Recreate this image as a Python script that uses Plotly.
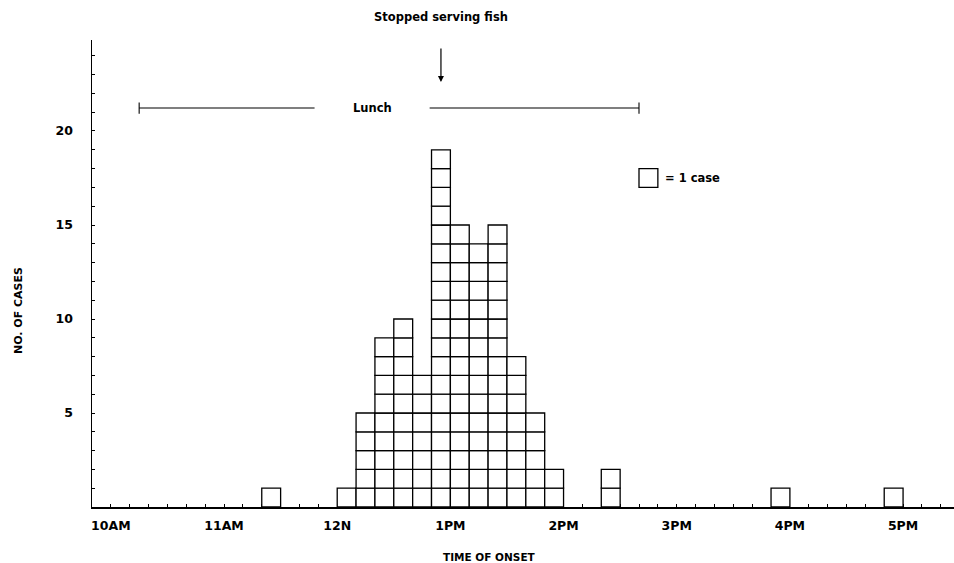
import plotly.graph_objects as go

# ---- data ----
bin_start = ["11:20", "12:00", "12:10", "12:20", "12:30", "12:40", "12:50",
             "13:00", "13:10", "13:20", "13:30", "13:40", "13:50", "14:20",
             "15:50", "16:50"]
cases = [1, 1, 5, 9, 10, 7, 19, 15, 14, 15, 8, 5, 2, 2, 1, 1]
bin_minutes = 10

hour_ticks = [10, 11, 12, 13, 14, 15, 16, 17]
hour_labels = ["10AM", "11AM", "12N", "1PM", "2PM", "3PM", "4PM", "5PM"]
y_label_vals = [5, 10, 15, 20]

lunch_start = "10:15"
lunch_end = "14:40"
fish_stop = "12:55"


def to_min(s):
    h, m = s.split(":")
    return int(h) * 60 + int(m)


FONT = "DejaVu Sans, Verdana, sans-serif"

xs, bases = [], []
for t, n in zip(bin_start, cases):
    for k in range(n):
        xs.append(to_min(t) + bin_minutes / 2)
        bases.append(k)

fig = go.Figure()
fig.add_trace(go.Bar(
    x=xs, y=[1] * len(xs), base=bases, width=bin_minutes,
    marker=dict(color="white", line=dict(color="black", width=1.3)),
    hoverinfo="skip", showlegend=False,
))

x_min, x_max = 590, 1047
y_max = 24.84

# x ticks every 10 minutes, labels at hours
xt_vals = list(range(600, 1041, bin_minutes))
hour_map = {h * 60: lab for h, lab in zip(hour_ticks, hour_labels)}
xt_text = [hour_map.get(v, "") for v in xt_vals]

yt_vals = list(range(1, 25))
yt_text = [str(v) if v in y_label_vals else "" for v in yt_vals]

fig.update_layout(
    width=954, height=563,
    margin=dict(l=92, r=0, t=40, b=56),
    paper_bgcolor="white", plot_bgcolor="white",
    barmode="overlay", bargap=0,
    font=dict(family=FONT, color="black", size=11),
    xaxis=dict(range=[x_min, x_max], showgrid=False, zeroline=False,
               showline=True, linecolor="black", linewidth=1.5,
               tickmode="array", tickvals=xt_vals, ticktext=xt_text,
               ticks="inside", ticklen=3, tickwidth=1, tickcolor="black",
               tickfont=dict(family=FONT, size=12.5, weight="bold"),
               ticklabelstandoff=6, layer="below traces", fixedrange=True),
    yaxis=dict(range=[0, y_max], showgrid=False, zeroline=False,
               showline=True, linecolor="black", linewidth=1.5,
               tickmode="array", tickvals=yt_vals, ticktext=yt_text,
               ticks="inside", ticklen=3, tickwidth=1, tickcolor="black",
               tickfont=dict(family=FONT, size=12.5, weight="bold"),
               ticklabelstandoff=15, layer="below traces", fixedrange=True),
)

# Lunch bar
lunch_y = 21.22
l0, l1 = to_min(lunch_start), to_min(lunch_end)
lunch_center = 738.5
gap = 30.5
line_style = dict(color="black", width=1.1)
fig.add_shape(type="line", x0=l0, x1=lunch_center - gap, y0=lunch_y, y1=lunch_y, line=line_style)
fig.add_shape(type="line", x0=lunch_center + gap, x1=l1, y0=lunch_y, y1=lunch_y, line=line_style)
for xv in (l0, l1):
    fig.add_shape(type="line", x0=xv, x1=xv, y0=lunch_y - 0.3, y1=lunch_y + 0.3, line=line_style)
fig.add_annotation(x=lunch_center, y=lunch_y, text="Lunch", showarrow=False,
                   font=dict(family=FONT, size=11.5, weight="bold"))

# Stopped serving fish (text above plot area, in paper coords)
fs = to_min(fish_stop)
fig.add_annotation(x=fs, yref="paper", y=1 + 23 / 467,
                   text="Stopped serving fish", showarrow=False, yanchor="middle",
                   font=dict(family=FONT, size=11.5, weight="bold"))
fig.add_annotation(x=fs, y=22.6, text="", showarrow=True, arrowhead=2,
                   arrowsize=1, arrowwidth=1.2, arrowcolor="black", ax=0, ay=-35)

# Legend square
fig.add_shape(type="rect", x0=880, x1=890, y0=17, y1=18,
              line=dict(color="black", width=1.3), fillcolor="white")
fig.add_annotation(x=892.5, y=17.5, text="= 1 case", showarrow=False, xanchor="left",
                   font=dict(family=FONT, size=11.5, weight="bold"))

# Axis titles
fig.add_annotation(xref="paper", yref="paper", x=-74 / 862, y=(507 - 311) / 467,
                   text="NO. OF CASES", textangle=-90, showarrow=False,
                   xanchor="center", yanchor="middle",
                   font=dict(family=FONT, size=11, weight="bold"))
fig.add_annotation(xref="paper", yref="paper", x=(489 - 92) / 862, y=-50 / 467,
                   text="TIME OF ONSET", showarrow=False, xanchor="center", yanchor="middle",
                   font=dict(family=FONT, size=10.5, weight="bold"))

fig.write_html(
    "out.html",
    config={"displayModeBar": False, "staticPlot": True},
    post_script="document.body.style.margin='0';document.body.style.overflow='hidden';",
)
